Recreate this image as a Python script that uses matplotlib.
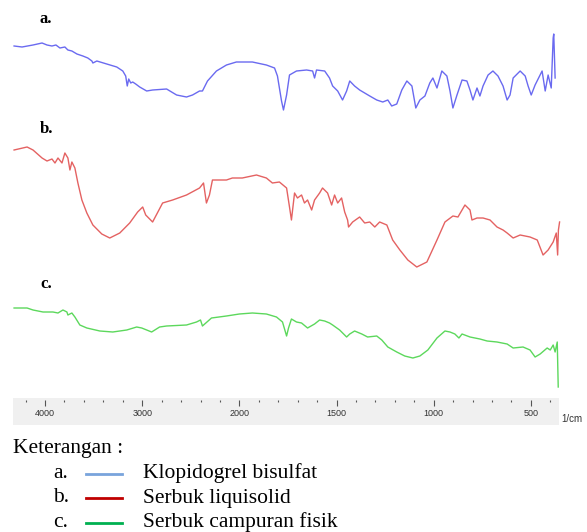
import numpy as np
import matplotlib
matplotlib.use("Agg")
import matplotlib.pyplot as plt
from matplotlib.ticker import FixedLocator, NullFormatter

# ---------------- data (wavenumber cm-1, transmittance, arbitrary units) ----------------
spec_a = [(4319, 69), (4237, 68), (4124, 70), (4031, 72), (3980, 70), (3929, 69), (3888, 70),
          (3847, 67), (3796, 68), (3765, 65), (3724, 64), (3672, 61), (3611, 59), (3560, 57),
          (3518, 54), (3508, 52), (3467, 54), (3365, 51), (3262, 48), (3200, 44), (3170, 39),
          (3154, 29), (3139, 36), (3118, 32), (3098, 33), (3067, 31), (3026, 28), (2954, 24),
          (2893, 25), (2749, 26), (2646, 20), (2544, 18), (2482, 20), (2410, 24), (2380, 24),
          (2328, 34), (2236, 44), (2133, 50), (2031, 53), (1933, 53), (1861, 50), (1819, 47),
          (1804, 39), (1783, 14), (1773, 5), (1757, 20), (1742, 40), (1706, 44), (1654, 45),
          (1623, 44), (1613, 37), (1603, 45), (1561, 44), (1536, 37), (1520, 29), (1494, 24),
          (1469, 15), (1448, 24), (1432, 34), (1407, 29), (1381, 25), (1329, 19), (1293, 15),
          (1262, 13), (1236, 15), (1216, 9), (1190, 11), (1164, 25), (1138, 34), (1112, 29),
          (1092, 7), (1071, 15), (1045, 19), (1020, 32), (1004, 37), (983, 27), (958, 44),
          (932, 39), (916, 24), (901, 7), (880, 20), (854, 35), (829, 34), (813, 25), (798, 15),
          (777, 27), (762, 19), (746, 29), (720, 40), (695, 44), (669, 39), (643, 29), (622, 15),
          (607, 20), (591, 37), (555, 44), (529, 39), (514, 29), (498, 20), (478, 30), (442, 44),
          (426, 24), (411, 40), (395, 27), (385, 77), (382, 81), (375, 37)]

spec_b = [(4319, 125), (4185, 128), (4124, 125), (4031, 117), (3980, 114), (3929, 116),
          (3898, 112), (3867, 117), (3826, 112), (3796, 122), (3765, 117), (3744, 105),
          (3724, 113), (3693, 107), (3662, 92), (3621, 75), (3570, 62), (3508, 50), (3416, 41),
          (3334, 37), (3231, 42), (3129, 52), (3047, 63), (2995, 68), (2964, 60), (2893, 53),
          (2790, 72), (2687, 75), (2544, 80), (2410, 87), (2369, 92), (2339, 72), (2308, 80),
          (2277, 95), (2133, 95), (2072, 97), (1985, 97), (1912, 100), (1861, 97), (1830, 92),
          (1794, 93), (1757, 87), (1742, 68), (1732, 55), (1716, 82), (1701, 77), (1680, 80),
          (1665, 72), (1649, 75), (1628, 65), (1613, 75), (1587, 82), (1572, 87), (1546, 82),
          (1525, 70), (1510, 80), (1494, 72), (1474, 77), (1458, 63), (1443, 55), (1438, 48),
          (1417, 53), (1381, 58), (1355, 52), (1329, 53), (1303, 48), (1278, 53), (1241, 50),
          (1211, 35), (1174, 25), (1133, 15), (1087, 8), (1035, 13), (983, 35), (942, 53),
          (901, 59), (875, 58), (839, 70), (813, 65), (803, 55), (777, 57), (746, 57), (710, 55),
          (674, 48), (643, 45), (622, 42), (591, 37), (555, 40), (504, 38), (467, 35), (437, 20),
          (411, 25), (385, 33), (369, 42), (362, 20), (358, 45), (352, 53)]

spec_c = [(4319, 87), (4185, 87), (4124, 85), (4021, 83), (3919, 83), (3867, 82), (3816, 85),
          (3775, 83), (3765, 80), (3724, 82), (3693, 78), (3642, 70), (3570, 67), (3436, 64),
          (3303, 63), (3159, 65), (3057, 68), (3005, 67), (2903, 63), (2821, 68), (2749, 69),
          (2544, 70), (2441, 73), (2400, 75), (2380, 69), (2287, 77), (2133, 79), (2000, 81),
          (1933, 82), (1861, 81), (1809, 78), (1778, 73), (1757, 59), (1747, 67), (1732, 76),
          (1706, 73), (1680, 72), (1649, 67), (1613, 71), (1587, 75), (1561, 74), (1536, 72),
          (1520, 70), (1484, 65), (1448, 58), (1432, 61), (1407, 64), (1370, 61), (1340, 58),
          (1293, 59), (1267, 55), (1236, 48), (1190, 43), (1149, 39), (1107, 37), (1071, 39),
          (1030, 45), (983, 57), (942, 64), (916, 63), (891, 61), (870, 57), (854, 61), (813, 58),
          (762, 56), (725, 54), (674, 53), (622, 51), (591, 47), (540, 48), (504, 45), (478, 38),
          (452, 41), (416, 47), (400, 45), (385, 50), (375, 43), (364, 53), (359, 8)]

major_ticks = [4000, 3000, 2000, 1500, 1000, 500]
minor_ticks = [4200, 3800, 3600, 3400, 3200, 2800, 2600, 2400, 2200, 1900, 1800, 1700, 1600,
               1400, 1300, 1200, 1100, 900, 800, 700, 600, 400]
x_unit = "1/cm"
panel_labels = ["a.", "b.", "c."]
legend_title = "Keterangan :"
legend_names = ["Klopidogrel bisulfat", "Serbuk liquisolid", "Serbuk campuran fisik"]

# ---------------- styling ----------------
W, H = 587, 532
fig = plt.figure(figsize=(W / 100, H / 100), dpi=100)

def rect(x0, y0, x1, y1):
    return [x0 / W, 1 - y1 / H, (x1 - x0) / W, (y1 - y0) / H]

def fwd(w):
    w = np.asarray(w, dtype=float)
    return np.where(w > 2000, 2000 + (w - 2000) / 2.0, w)

def inv(u):
    u = np.asarray(u, dtype=float)
    return np.where(u > 2000, 2000 + (u - 2000) * 2.0, u)

XLIM = (4330, 355)

def setup_x(ax):
    ax.set_xscale("function", functions=(fwd, inv))
    ax.set_xlim(*XLIM)

panels = [
    (spec_a, "#6a6af0", rect(13, 30, 559, 115), 85, 23),
    (spec_b, "#e46262", rect(13, 140, 559, 275), 135, 133),
    (spec_c, "#5cd85c", rect(13, 295, 559, 395), 100, 288),
]

serif = ["Liberation Serif", "DejaVu Serif"]

for (spec, color, r, ytop, lab_y), lab in zip(panels, panel_labels):
    ax = fig.add_axes(r)
    setup_x(ax)
    wn = [p[0] for p in spec]
    tv = [p[1] for p in spec]
    ax.plot(wn, tv, color=color, lw=1.0, clip_on=False, solid_joinstyle="round")
    ax.set_ylim(0, ytop)
    ax.axis("off")
    fig.text(40 / W, 1 - lab_y / H, lab, fontsize=12, fontweight="bold",
             family=serif, ha="left", va="baseline")

# grey axis band
band = fig.add_axes(rect(13, 398, 559, 425))
band.set_facecolor("#f0f0f0")
for s in band.spines.values():
    s.set_visible(False)
band.set_xticks([])
band.set_yticks([])

tax = fig.add_axes(rect(13, 400, 559, 407))
setup_x(tax)
tax.patch.set_alpha(0)
for s in tax.spines.values():
    s.set_visible(False)
tax.set_yticks([])
tax.xaxis.set_major_locator(FixedLocator(major_ticks))
tax.xaxis.set_minor_locator(FixedLocator(minor_ticks))
tax.xaxis.set_minor_formatter(NullFormatter())
tax.set_xticklabels([str(t) for t in major_ticks])
tax.tick_params(axis="x", which="both", top=True, bottom=False, labeltop=False,
                labelbottom=True, direction="in", colors="#555555")
tax.tick_params(axis="x", which="major", length=4.3, width=0.8, pad=1.5,
                labelsize=6.5, labelcolor="#333333")
tax.tick_params(axis="x", which="minor", length=1.5, width=0.8)
for t in tax.get_xticklabels():
    t.set_family(["Liberation Sans", "DejaVu Sans"])

fig.text(561 / W, 1 - 419 / H, x_unit, fontsize=7, family=["Liberation Sans", "DejaVu Sans"],
         color="#333333", ha="left", va="center")

# legend block
LFS = 15.5
fig.text(13 / W, 1 - 453 / H, legend_title, fontsize=LFS, family=serif,
         ha="left", va="baseline")
legend_colors = ["#79a4dc", "#c00000", "#00b050"]
for i, (lab, name, col) in enumerate(zip(panel_labels, legend_names, legend_colors)):
    base = 478 + i * 24.5
    fig.text(53 / W, 1 - base / H, lab, fontsize=LFS, family=serif, ha="left", va="baseline")
    fig.add_artist(plt.Line2D([86 / W, 122 / W], [1 - (base - 4.5) / H] * 2, color=col,
                              lw=2.0, transform=fig.transFigure))
    fig.text(143 / W, 1 - base / H, name, fontsize=LFS, family=serif, ha="left",
             va="baseline")

fig.savefig("out.png", dpi=100)
